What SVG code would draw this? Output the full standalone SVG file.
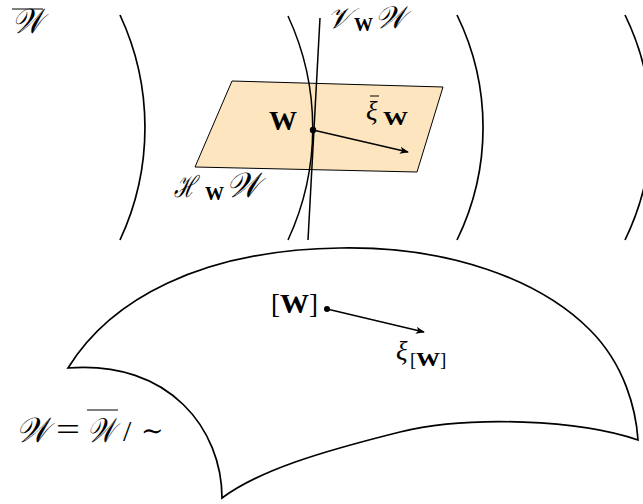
<svg xmlns="http://www.w3.org/2000/svg" width="643" height="504" viewBox="0 0 643 504">
<style>
.ln{fill:none;stroke:#000;stroke-width:1.7}
.ar{fill:none;stroke:#000;stroke-width:1.4}
.bar{stroke:#000;stroke-width:1}
.m{font-family:"Liberation Serif","DejaVu Serif",serif;font-style:italic;fill:#000}
.b{font-family:"Liberation Serif","DejaVu Serif",serif;font-weight:bold;fill:#000}
.r{font-family:"Liberation Serif","DejaVu Serif",serif;fill:#000}
</style>
<defs>
<marker id="ah" viewBox="0 0 10 10" refX="9" refY="5" markerWidth="9" markerHeight="9" markerUnits="userSpaceOnUse" orient="auto">
<path d="M0,1 L10,5 L0,9 L2.5,5 Z" fill="#000"/>
</marker>
</defs>
<g id="total-space-arcs">
<path class="ln" d="M120,15 A266,266 0 0 1 120,240"/>
<path class="ln" d="M457,15 A256,256 0 0 1 457,240"/>
<path class="ln" d="M625,15 A256,256 0 0 1 625,240"/>
</g>
<g id="horizontal-space">
<path d="M232,81 L443,87 L417,172 L195,167 Z" fill="#fde6bf" stroke="#000" stroke-width="1"/>
</g>
<g id="fiber">
<path class="ln" d="M288,16 A266,266 0 0 1 288,240" style="stroke-width:1.5"/>
<path class="ln" d="M320,18 L308,240" style="stroke-width:1.5"/>
</g>
<g id="connectors">
<line class="ar" x1="313" y1="130" x2="408" y2="152" marker-end="url(#ah)"/>
<line class="ar" x1="327" y1="309" x2="424" y2="332" marker-end="url(#ah)"/>
</g>
<g id="point-W">
<circle cx="313" cy="130" r="3.2" fill="#000"/>
<text class="b" x="269" y="130" font-size="27" textLength="28" lengthAdjust="spacingAndGlyphs">W</text>
<text class="m" x="366" y="120" font-size="27">ξ</text>
<text class="b" x="383" y="125" font-size="19" textLength="25" lengthAdjust="spacingAndGlyphs">W</text>
<line class="bar" x1="370" y1="96" x2="379" y2="96"/>
</g>
<g id="labels">
<text class="m" x="12" y="33" font-size="35" textLength="31" lengthAdjust="spacingAndGlyphs">𝒲</text>
<line class="bar" x1="12" y1="9" x2="43" y2="9"/>
<text class="m" x="327" y="28" font-size="29" textLength="24" lengthAdjust="spacingAndGlyphs">𝒱</text>
<text class="b" x="354" y="31" font-size="19" textLength="19" lengthAdjust="spacingAndGlyphs">W</text>
<text class="m" x="375" y="28" font-size="31" textLength="30" lengthAdjust="spacingAndGlyphs">𝒲</text>
<text class="m" x="174" y="197" font-size="30" textLength="22" lengthAdjust="spacingAndGlyphs">ℋ</text>
<text class="b" x="205" y="200" font-size="19" textLength="19" lengthAdjust="spacingAndGlyphs">W</text>
<text class="m" x="226" y="197" font-size="35" textLength="34" lengthAdjust="spacingAndGlyphs">𝒲</text>
</g>
<g id="quotient-manifold">
<path class="ln" d="M68,368 C110,300 200,250 340,248 C450,246 540,280 590,330 C625,365 636,410 638,440 C580,420 470,415 400,432 C320,452 260,470 222,498 C222,430 170,360 68,368 Z"/>
</g>
<g id="point-class">
<circle cx="327" cy="309" r="3" fill="#000"/>
<text class="r" x="271" y="313" font-size="27">[</text>
<text class="b" x="280" y="313" font-size="27" textLength="29" lengthAdjust="spacingAndGlyphs">W</text>
<text class="r" x="309" y="313" font-size="27">]</text>
<text class="m" x="396" y="360" font-size="27">ξ</text>
<text class="r" x="410" y="366" font-size="19">[</text>
<text class="b" x="416" y="366" font-size="19" textLength="24" lengthAdjust="spacingAndGlyphs">W</text>
<text class="r" x="440" y="366" font-size="19">]</text>
</g>
<g id="quotient-label">
<text class="m" x="16" y="442" font-size="35" textLength="33" lengthAdjust="spacingAndGlyphs">𝒲</text>
<text class="r" x="56" y="440" font-size="32" textLength="24" lengthAdjust="spacingAndGlyphs">=</text>
<text class="m" x="87" y="442" font-size="34" textLength="28" lengthAdjust="spacingAndGlyphs">𝒲</text>
<line class="bar" x1="87" y1="410" x2="118" y2="410"/>
<text class="r" x="123" y="441" font-size="30">/</text>
<text class="r" x="141" y="440" font-size="27">∼</text>
</g>
</svg>
